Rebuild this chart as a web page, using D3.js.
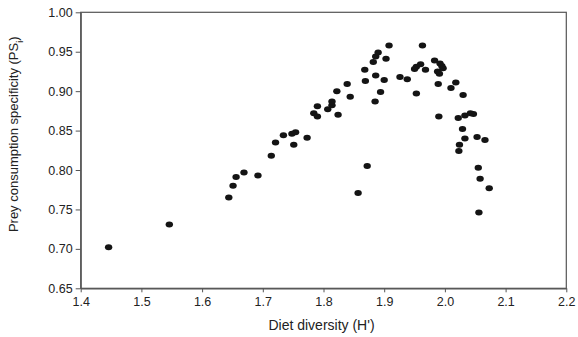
<!DOCTYPE html>
<html>
<head>
<meta charset="utf-8">
<script src="https://cdn.jsdelivr.net/npm/d3@7"></script>
<style>
  html, body { margin: 0; padding: 0; background: #fff; }
  svg { display: block; font-family: "Liberation Sans", Arial, sans-serif; }
</style>
</head>
<body>
<svg id="chart" width="578" height="337"></svg>
<script>
// Diet diversity (H') of each predator
const dietDiversity = [
  1.446, 1.546, 1.644, 1.651, 1.656, 1.669, 1.692, 1.714, 1.721, 1.734,
  1.748, 1.754, 1.751, 1.773, 1.784, 1.790, 1.790, 1.807, 1.814, 1.814,
  1.822, 1.824, 1.839, 1.844, 1.868, 1.869, 1.882, 1.886, 1.890, 1.903,
  1.908, 1.886, 1.900, 1.894, 1.885, 1.872, 1.857, 1.926, 1.938, 1.953,
  1.950, 1.953, 1.960, 1.968, 1.963, 1.983, 1.992, 1.995, 1.997, 1.988,
  1.991, 1.989, 1.990, 2.010, 2.018, 2.030, 2.022, 2.033, 2.042, 2.047,
  2.029, 2.033, 2.053, 2.066, 2.024, 2.023, 2.055, 2.058, 2.073, 2.056
];
// Prey consumption specificity (PS_i) for the same predators
const preySpecificity = [
  0.702, 0.731, 0.765, 0.780, 0.791, 0.797, 0.793, 0.818, 0.835, 0.844,
  0.846, 0.848, 0.832, 0.841, 0.872, 0.881, 0.868, 0.877, 0.882, 0.887,
  0.900, 0.870, 0.909, 0.893, 0.927, 0.913, 0.937, 0.944, 0.949, 0.941,
  0.958, 0.920, 0.914, 0.899, 0.887, 0.805, 0.771, 0.918, 0.915, 0.897,
  0.928, 0.931, 0.934, 0.927, 0.958, 0.939, 0.935, 0.932, 0.929, 0.925,
  0.922, 0.909, 0.868, 0.904, 0.911, 0.895, 0.866, 0.869, 0.872, 0.871,
  0.852, 0.840, 0.842, 0.838, 0.832, 0.824, 0.803, 0.789, 0.777, 0.746
];
const xTicks = [1.4, 1.5, 1.6, 1.7, 1.8, 1.9, 2.0, 2.1, 2.2];
const yTicks = [0.65, 0.70, 0.75, 0.80, 0.85, 0.90, 0.95, 1.00];

const svg = d3.select("#chart");
const plotLeft = 80.7, plotRight = 566.3, plotTop = 12.3, plotBottom = 288.3;
const axisColor = "#555";

const x = d3.scaleLinear().domain([1.4, 2.2]).range([plotLeft, plotRight]);
const y = d3.scaleLinear().domain([0.65, 1.00]).range([plotBottom, plotTop]);

// Plot frame
svg.append("rect")
  .attr("x", plotLeft).attr("y", plotTop)
  .attr("width", plotRight - plotLeft).attr("height", plotBottom - plotTop)
  .attr("fill", "none").attr("stroke", axisColor).attr("stroke-width", 1.2);

// Bottom axis
const gx = svg.append("g")
  .attr("transform", `translate(0,${plotBottom})`)
  .call(d3.axisBottom(x).tickValues(xTicks).tickFormat(d3.format(".1f"))
    .tickSizeInner(4).tickSizeOuter(0).tickPadding(5));
// Left axis
const gy = svg.append("g")
  .attr("transform", `translate(${plotLeft},0)`)
  .call(d3.axisLeft(y).tickValues(yTicks).tickFormat(d3.format(".2f"))
    .tickSizeInner(5).tickSizeOuter(0).tickPadding(3));

[gx, gy].forEach(g => {
  g.select(".domain").attr("stroke", axisColor).attr("stroke-width", 1.2);
  g.selectAll(".tick line").attr("stroke", axisColor).attr("stroke-width", 1);
  g.selectAll(".tick text")
    .attr("fill", "#222")
    .style("font-size", "12.5px")
    .style("font-family", "'Liberation Sans', Arial, sans-serif");
});

// Scatter points
const pts = dietDiversity.map((d, i) => ({ h: d, ps: preySpecificity[i] }));
svg.append("g")
  .selectAll("ellipse")
  .data(pts)
  .join("ellipse")
  .attr("cx", d => x(d.h))
  .attr("cy", d => y(d.ps))
  .attr("rx", 3.7)
  .attr("ry", 3.0)
  .attr("fill", "#141414");

// Axis titles
svg.append("text")
  .attr("x", (plotLeft + plotRight) / 2 - 2)
  .attr("y", 330)
  .attr("text-anchor", "middle")
  .attr("fill", "#222")
  .style("font-size", "14px")
  .text("Diet diversity (H')");

const yt = svg.append("text")
  .attr("transform", `translate(18,${(plotTop + plotBottom) / 2 - 16}) rotate(-90)`)
  .attr("text-anchor", "middle")
  .attr("fill", "#222")
  .style("font-size", "13px");
yt.append("tspan").text("Prey consumption specificity (PS");
yt.append("tspan").attr("baseline-shift", "sub").style("font-size", "9px").text("i");
yt.append("tspan").text(")");
</script>
</body>
</html>
